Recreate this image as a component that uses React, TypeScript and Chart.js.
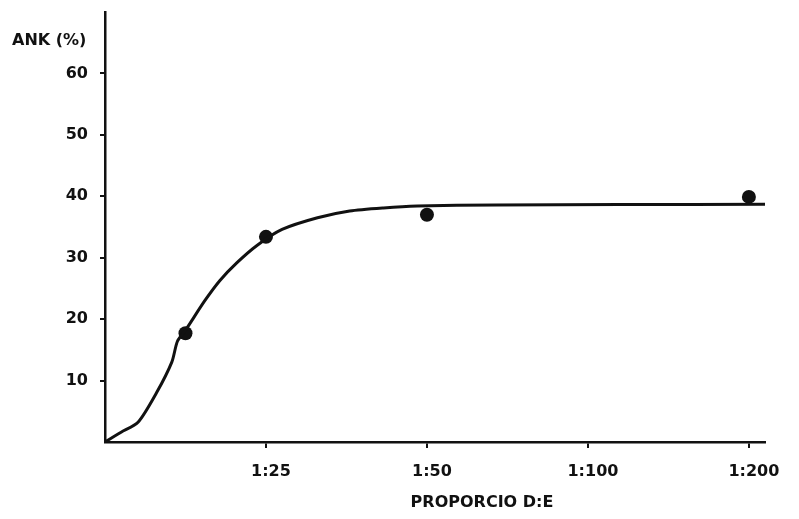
import React, { useEffect, useRef } from "react";
import { Chart, registerables } from "chart.js";

Chart.register(...registerables);

// Fitted curve (x in category-index units: 0 = origin, 1 = 1:25, 2 = 1:50, 3 = 1:100, 4 = 1:200)
const curveX = [0, 0.1, 0.205, 0.32, 0.415, 0.45, 0.5, 0.62, 0.714, 0.82, 0.944, 1.1, 1.32, 1.52, 1.73, 1.94, 2.43, 3.2, 4.1];
const curveY = [0, 1.6, 3.2, 8.0, 13.0, 16.4, 18.2, 23.0, 26.3, 29.2, 32.0, 34.6, 36.5, 37.6, 38.1, 38.4, 38.6, 38.65, 38.7];

// Measured points
const pointX = [0.5, 1.0, 2.0, 4.0];
const pointY = [17.7, 33.4, 37.0, 39.9];

// Axis ticks
const xTickValues = [1, 2, 3, 4];
const xTickLabels = ["1:25", "1:50", "1:100", "1:200"];
const yTickValues = [10, 20, 30, 40, 50, 60];

const yAxisLabel = "ANK (%)";
const xAxisLabel = "PROPORCIO D:E";

const INK = "#111";
const FONT_FAMILY = "'DejaVu Sans', sans-serif";

export default function App() {
  const canvasRef = useRef<HTMLCanvasElement | null>(null);

  useEffect(() => {
    const canvas = canvasRef.current;
    if (!canvas) return;

    const labelsPlugin = {
      id: "axisLabels",
      afterDraw(chart: any) {
        const ctx = chart.ctx;
        ctx.save();
        ctx.fillStyle = INK;
        ctx.font = `bold 16px ${FONT_FAMILY}`;
        ctx.textBaseline = "middle";
        ctx.textAlign = "left";
        ctx.fillText(yAxisLabel, 12, 41);
        ctx.textAlign = "center";
        ctx.fillText(xAxisLabel, 482, 503);
        ctx.restore();
      },
    };

    const chart = new Chart(canvas, {
      type: "scatter",
      data: {
        datasets: [
          {
            label: "curve",
            data: curveX.map((x, i) => ({ x, y: curveY[i] })),
            showLine: true,
            borderColor: INK,
            borderWidth: 3,
            pointRadius: 0,
            tension: 0.25,
            fill: false,
          },
          {
            label: "points",
            data: pointX.map((x, i) => ({ x, y: pointY[i] })),
            showLine: false,
            pointRadius: 7,
            pointBackgroundColor: INK,
            pointBorderColor: INK,
            pointBorderWidth: 0,
          },
        ],
      },
      options: {
        responsive: false,
        animation: false,
        events: [],
        layout: { padding: { top: 12, right: 34, left: 0, bottom: 0 } },
        plugins: {
          legend: { display: false },
          tooltip: { enabled: false },
          title: { display: false },
        },
        scales: {
          x: {
            type: "linear",
            min: 0,
            max: 4.1,
            afterFit: (scale: any) => {
              scale.height = 77;
              scale.paddingLeft = 0;
              scale.paddingRight = 0;
            },
            afterBuildTicks: (scale: any) => {
              scale.ticks = xTickValues.map((v) => ({ value: v }));
            },
            ticks: {
              color: INK,
              font: { family: FONT_FAMILY, size: 16, weight: "bold" },
              padding: 14,
              labelOffset: 5,
              maxRotation: 0,
              autoSkip: false,
              callback: (v: any) => {
                const i = xTickValues.indexOf(Number(v));
                return i >= 0 ? xTickLabels[i] : "";
              },
            },
            grid: {
              display: true,
              drawOnChartArea: false,
              drawTicks: true,
              tickLength: 6,
              color: INK,
              lineWidth: 2,
            },
            border: { display: true, color: INK, width: 2.5 },
          },
          y: {
            type: "linear",
            min: 0,
            max: 70,
            afterFit: (scale: any) => {
              scale.width = 105;
              scale.paddingTop = 0;
              scale.paddingBottom = 0;
            },
            afterBuildTicks: (scale: any) => {
              scale.ticks = yTickValues.map((v) => ({ value: v }));
            },
            ticks: {
              color: INK,
              font: { family: FONT_FAMILY, size: 16, weight: "bold" },
              padding: 12,
              autoSkip: false,
              callback: (v: any) => String(v),
            },
            grid: {
              display: true,
              drawOnChartArea: false,
              drawTicks: true,
              tickLength: 5,
              color: INK,
              lineWidth: 2,
            },
            border: { display: true, color: INK, width: 2.5 },
          },
        },
      },
      plugins: [labelsPlugin],
    } as any);

    return () => {
      chart.destroy();
    };
  }, []);

  return (
    <div
      style={{
        position: "fixed",
        left: 0,
        top: 0,
        width: 799,
        height: 519,
        background: "#fff",
      }}
    >
      <canvas ref={canvasRef} width={799} height={519} style={{ display: "block" }} />
    </div>
  );
}
